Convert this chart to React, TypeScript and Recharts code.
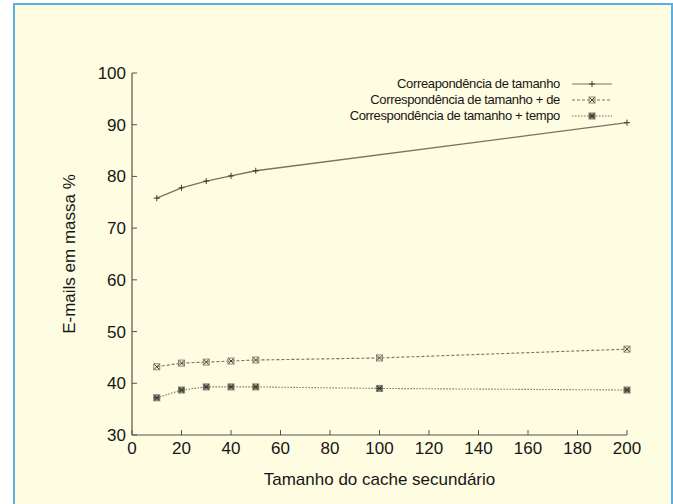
import React from 'react';
import { LineChart, Line, XAxis, YAxis, Legend } from 'recharts';

const sizes = [10, 20, 30, 40, 50, 100, 200];
const sizeMatch = [75.8, 77.8, 79.1, 80.1, 81.1, null, 90.4];
const sizeMatchFrom = [43.2, 43.9, 44.1, 44.3, 44.5, 44.9, 46.6];
const sizeMatchTime = [37.2, 38.7, 39.3, 39.3, 39.3, 39.0, 38.7];
const xTicks = [0, 20, 40, 60, 80, 100, 120, 140, 160, 180, 200];
const yTicks = [30, 40, 50, 60, 70, 80, 90, 100];

const seriesNames = [
  'Correapondência de tamanho',
  'Correspondência de tamanho + de',
  'Correspondência de tamanho + tempo',
];

const data = sizes.map((s, i) => ({
  size: s,
  a: sizeMatch[i],
  b: sizeMatchFrom[i],
  c: sizeMatchTime[i],
}));

const LINE = '#74745f';
const MARK = '#3a3a32';
const AXIS = '#55554c';
const TEXT = '#161616';
const FONT = '"Liberation Sans", Arial, sans-serif';

const PlusMark = ({ cx, cy }: any) => {
  if (cx == null || cy == null) return null;
  return (
    <g stroke={MARK} strokeWidth={1}>
      <line x1={cx - 3} y1={cy} x2={cx + 3} y2={cy} />
      <line x1={cx} y1={cy - 3} x2={cx} y2={cy + 3} />
    </g>
  );
};

const BoxXMark = ({ cx, cy }: any) => {
  if (cx == null || cy == null) return null;
  return (
    <g stroke={MARK} strokeWidth={1} fill="none">
      <rect x={cx - 3} y={cy - 3} width={6} height={6} stroke="#8a8a7a" />
      <line x1={cx - 2.5} y1={cy - 2.5} x2={cx + 2.5} y2={cy + 2.5} />
      <line x1={cx - 2.5} y1={cy + 2.5} x2={cx + 2.5} y2={cy - 2.5} />
    </g>
  );
};

const BoxStarMark = ({ cx, cy }: any) => {
  if (cx == null || cy == null) return null;
  return (
    <g stroke={MARK} strokeWidth={1.1}>
      <rect x={cx - 3} y={cy - 3} width={6} height={6} fill="#9a9a88" stroke="#8a8a7a" />
      <line x1={cx - 2.5} y1={cy - 2.5} x2={cx + 2.5} y2={cy + 2.5} />
      <line x1={cx - 2.5} y1={cy + 2.5} x2={cx + 2.5} y2={cy - 2.5} />
      <line x1={cx - 3} y1={cy} x2={cx + 3} y2={cy} />
    </g>
  );
};

const BottomTick = ({ x, y, payload }: any) => (
  <g>
    <line x1={x} y1={y} x2={x} y2={y - 5} stroke={AXIS} />
    <text x={x} y={y + 19} textAnchor="middle" fontSize={17} fill={TEXT} fontFamily={FONT}>
      {payload.value}
    </text>
  </g>
);

const LeftTick = ({ x, y, payload }: any) => (
  <g>
    <line x1={x} y1={y} x2={x + 5} y2={y} stroke={AXIS} />
    <text x={x - 6} y={y + 6} textAnchor="end" fontSize={17} fill={TEXT} fontFamily={FONT}>
      {payload.value}
    </text>
  </g>
);

const TopTick = ({ x, y }: any) => <line x1={x} y1={y} x2={x} y2={y + 5} stroke={AXIS} />;
const RightTick = ({ x, y }: any) => <line x1={x} y1={y} x2={x - 5} y2={y} stroke={AXIS} />;

const legendStyles = [
  { dash: undefined, Mark: PlusMark },
  { dash: '3 2', Mark: BoxXMark },
  { dash: '1.5 1.5', Mark: BoxStarMark },
];

const LegendBox = () => (
  <div style={{ fontFamily: FONT, fontSize: 13, color: TEXT, lineHeight: '16px' }}>
    {seriesNames.map((name, i) => {
      const { dash, Mark } = legendStyles[i];
      return (
        <div key={name} style={{ display: 'flex', justifyContent: 'flex-end', alignItems: 'center', height: 16 }}>
          <span style={{ whiteSpace: 'nowrap', letterSpacing: -0.35 }}>{name}</span>
          <svg width={52} height={16} style={{ marginLeft: 8 }}>
            <line x1={4} y1={8} x2={44} y2={8} stroke={LINE} strokeDasharray={dash} />
            <Mark cx={24} cy={8} />
          </svg>
        </div>
      );
    })}
  </div>
);

export default function App() {
  return (
    <div
      style={{
        position: 'absolute',
        left: 0,
        top: 0,
        width: 673,
        height: 504,
        background: '#ffffff',
      }}
    >
      <div
        style={{
          position: 'absolute',
          left: 13,
          top: 3,
          width: 656,
          height: 510,
          background: '#fefce1',
          border: '2px solid #5ab0e2',
          borderBottom: 'none',
        }}
      />
      <div style={{ position: 'absolute', left: 0, top: 0 }}>
        <LineChart
          width={673}
          height={504}
          data={data}
          margin={{ top: 73, right: 46, left: 72, bottom: 39 }}
        >
          <XAxis
            xAxisId="bottom"
            dataKey="size"
            type="number"
            domain={[0, 200]}
            ticks={xTicks}
            height={30}
            tickSize={0}
            tickMargin={0}
            tickLine={false}
            axisLine={{ stroke: AXIS, strokeWidth: 1.2 }}
            tick={<BottomTick />}
            interval={0}
            label={{
              value: 'Tamanho do cache secundário',
              position: 'bottom',
              offset: 8,
              fontSize: 17,
              fill: TEXT,
              fontFamily: FONT,
            }}
          />
          <XAxis
            xAxisId="top"
            orientation="top"
            dataKey="size"
            type="number"
            domain={[0, 200]}
            ticks={xTicks}
            height={0}
            tickSize={0}
            tickMargin={0}
            tickLine={false}
            axisLine={{ stroke: AXIS, strokeWidth: 1.2 }}
            tick={<TopTick />}
            interval={0}
          />
          <YAxis
            yAxisId="left"
            type="number"
            domain={[30, 100]}
            ticks={yTicks}
            width={60}
            tickSize={0}
            tickMargin={0}
            tickLine={false}
            axisLine={{ stroke: AXIS, strokeWidth: 1.2 }}
            tick={<LeftTick />}
            interval={0}
            label={{
              value: 'E-mails em massa %',
              angle: -90,
              position: 'insideLeft',
              offset: 0,
              dx: -3,
              style: { textAnchor: 'middle' },
              fontSize: 17,
              fill: TEXT,
              fontFamily: FONT,
            }}
          />
          <YAxis
            yAxisId="right"
            orientation="right"
            type="number"
            domain={[30, 100]}
            ticks={yTicks}
            width={0}
            tickSize={0}
            tickMargin={0}
            tickLine={false}
            axisLine={{ stroke: AXIS, strokeWidth: 1.2 }}
            tick={<RightTick />}
            interval={0}
          />
          <Legend
            layout="horizontal"
            verticalAlign="middle"
            align="center"
            content={<LegendBox />}
            wrapperStyle={{ top: 76, left: 260, width: 360 }}
          />
          <Line
            xAxisId="bottom"
            yAxisId="left"
            type="linear"
            dataKey="a"
            name={seriesNames[0]}
            stroke={LINE}
            strokeWidth={1.3}
            dot={<PlusMark />}
            activeDot={false}
            connectNulls
            isAnimationActive={false}
          />
          <Line
            xAxisId="bottom"
            yAxisId="left"
            type="linear"
            dataKey="b"
            name={seriesNames[1]}
            stroke={LINE}
            strokeWidth={1.1}
            strokeDasharray="3 2"
            dot={<BoxXMark />}
            activeDot={false}
            isAnimationActive={false}
          />
          <Line
            xAxisId="bottom"
            yAxisId="left"
            type="linear"
            dataKey="c"
            name={seriesNames[2]}
            stroke={LINE}
            strokeWidth={1.1}
            strokeDasharray="1.5 1.5"
            dot={<BoxStarMark />}
            activeDot={false}
            isAnimationActive={false}
          />
        </LineChart>
      </div>
    </div>
  );
}
